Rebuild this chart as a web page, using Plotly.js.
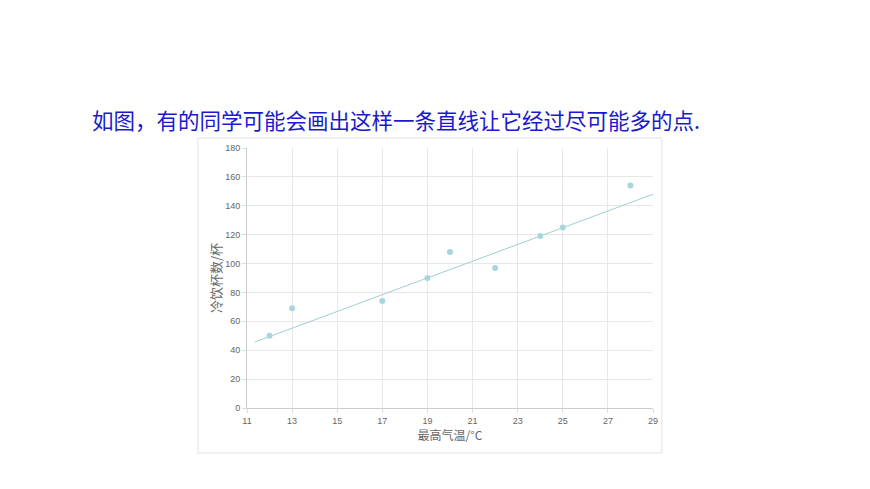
<!DOCTYPE html>
<html>
<head>
<meta charset="utf-8">
<script src="https://cdn.plot.ly/plotly-3.0.1.min.js"></script>
<style>
    html, body { margin: 0; padding: 0; background: #fff; }
    #chart { width: 870px; height: 489px; }
</style>
</head>
<body>
<div id="chart"></div>
<script>
// Observed points: highest temperature (°C) vs cold drinks sold (cups)
const temps = [12, 13, 17, 19, 20, 22, 24, 25, 28];
const cups = [50, 69, 74, 90, 108, 97, 119, 125, 154];

// Hand-drawn fit line at both ends
const lineX = [11.35, 29];
const lineY = [45.7, 148];

const xTicks = [11, 13, 15, 17, 19, 21, 23, 25, 27, 29];
const yTicks = [0, 20, 40, 60, 80, 100, 120, 140, 160, 180];

const teal = "#a9d5dc";
const tickFont = { family: "Liberation Sans, Arial, sans-serif", size: 9, color: "#666" };
const cjk = "Noto Sans CJK SC, sans-serif";

Plotly.newPlot("chart", [{
    type: "scatter",
    mode: "lines",
    x: lineX, y: lineY,
    line: { color: "#9fcfd2", width: 1 },
    hoverinfo: "skip",
}, {
    type: "scatter",
    mode: "markers",
    x: temps, y: cups,
    marker: { color: teal, size: 6 },
    cliponaxis: false,
}], {
    width: 870,
    height: 489,
    showlegend: false,
    paper_bgcolor: "#fff",
    plot_bgcolor: "#fff",
    margin: { l: 247, r: 217, t: 148, b: 81, pad: 0 },
    xaxis: {
        range: [11, 29],
        tickvals: xTicks,
        ticktext: xTicks.map(String),
        tickfont: tickFont,
        ticks: "outside", ticklen: 4, tickcolor: "#ddd",
        showgrid: true, gridcolor: "#e8e8e8",
        showline: true, linecolor: "#ccc", mirror: false,
        zeroline: false,
        fixedrange: true,
        title: { text: "最高气温/°C", font: { family: cjk, size: 12, color: "#666" }, standoff: 5 },
    },
    yaxis: {
        range: [0, 180],
        tickvals: yTicks,
        ticktext: yTicks.map(String),
        tickfont: tickFont,
        ticks: "outside", ticklen: 4, tickcolor: "#ddd",
        showgrid: true, gridcolor: "#e8e8e8",
        showline: true, linecolor: "#ccc",
        zeroline: false,
        fixedrange: true,
        title: { text: "冷饮杯数/杯", font: { family: cjk, size: 13, color: "#666" }, standoff: 0 },
    },
    shapes: [{
        type: "rect",
        xref: "paper", yref: "paper",
        x0: -0.1207, x1: 1.022, y0: -0.173, y1: 1.0385,
        line: { color: "#e2e2e2", width: 1 },
        layer: "below",
    }],
    annotations: [{
        xref: "paper", yref: "paper",
        x: -0.3867, y: 1.1077,
        xanchor: "left", yanchor: "middle",
        showarrow: false,
        text: "如图，有的同学可能会画出这样一条直线让它经过尽可能多的点.",
        font: { family: cjk, size: 21.5, color: "#1a1acc" },
    }],
}, { displayModeBar: false, responsive: false });
</script>
</body>
</html>
